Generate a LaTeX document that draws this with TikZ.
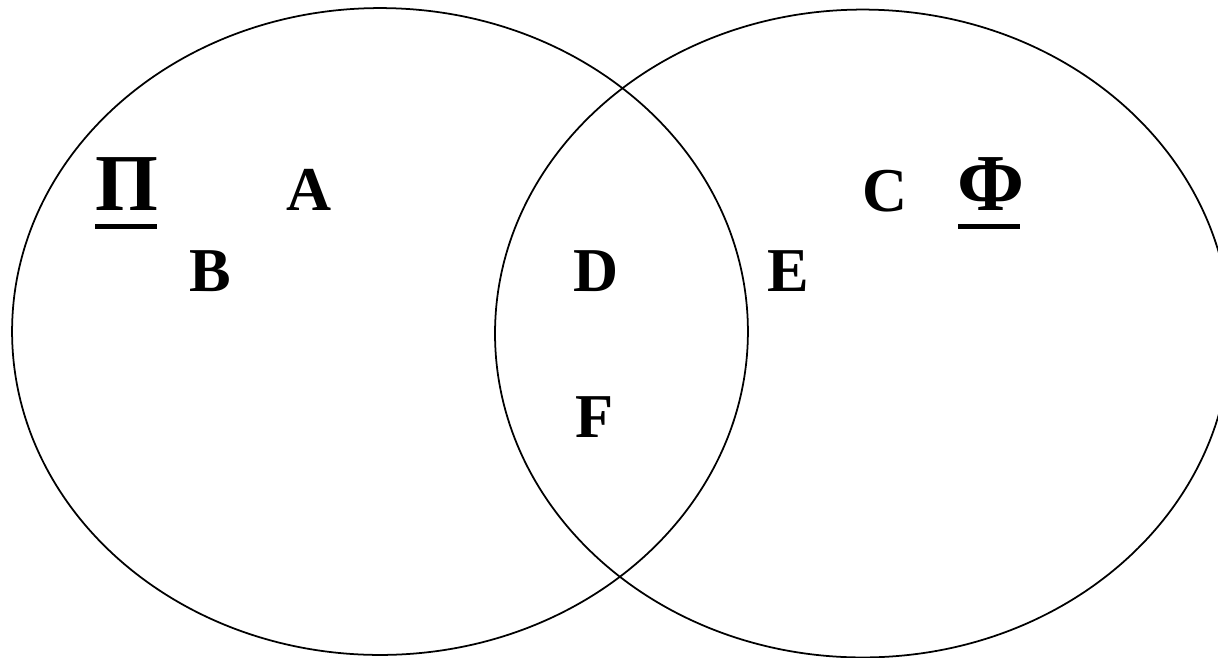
\documentclass[tikz,border=0pt]{standalone}
\usepackage{fontspec}
\setmainfont{Liberation Serif}
\usetikzlibrary{shapes.geometric,calc}
\tikzset{
  setshape/.style={draw=black, line width=1pt, ellipse, inner sep=0pt},
  lbl/.style={font=\fontsize{35.5}{35.5}\selectfont\bfseries, inner sep=0pt, anchor=base},
  grk/.style={font=\fontsize{46}{46}\selectfont\bfseries, inner sep=0pt, anchor=base},
  ul/.style={line width=0.1cm}
}
\begin{document}
\begin{tikzpicture}[x=0.02cm,y=-0.02cm]
\useasboundingbox (0,0) rectangle (1218,657);
\clip (0,0) rectangle (1218,657);
\node[setshape, minimum width=14.72cm, minimum height=12.94cm] (left) at (380,331.5) {};
\node[setshape, minimum width=14.71cm, minimum height=12.96cm] (right) at (862.7,333.5) {};
\node[grk] (pi) at (127,210) {Π};
\node[grk] (phi) at (991,210) {Φ};
\draw[ul] ($(pi.base)+(-32,16.5)$) -- ($(pi.base)+(30,16.5)$);
\draw[ul] ($(phi.base)+(-33,16.5)$) -- ($(phi.base)+(29,16.5)$);
\node[lbl] (A) at (309,210) {A};
\node[lbl] (B) at (210,291) {B};
\node[lbl] (C) at (885,211) {C};
\node[lbl] (D) at (596,291) {D};
\node[lbl] (E) at (788,291) {E};
\node[lbl] (F) at (595,437) {F};
\end{tikzpicture}
\end{document}
